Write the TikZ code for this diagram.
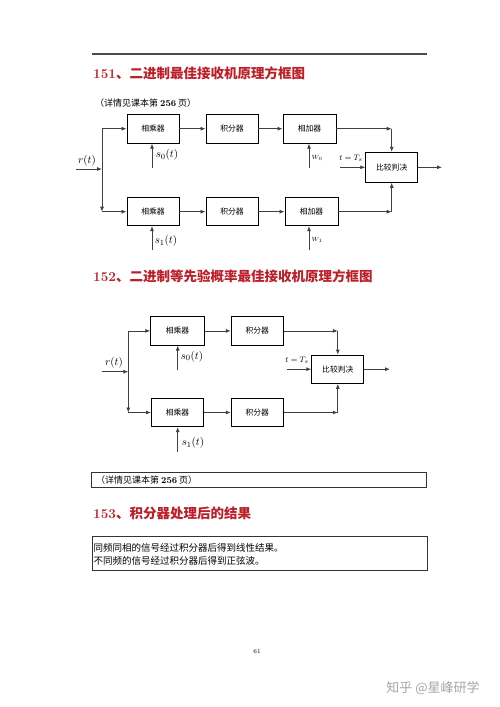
\documentclass[tikz,border=0pt]{standalone}
\usepackage{fontspec}
\newfontfamily\cjk{Noto Sans CJK SC}
\usetikzlibrary{arrows.meta}
\definecolor{titlered}{RGB}{190,30,40}
\tikzset{
  blk/.style={draw=black,line width=0.9pt,minimum width=52pt,minimum height=29pt,inner sep=0pt,font=\cjk\fontsize{7.8}{8}\selectfont},
  ln/.style={draw=black!75,line width=0.8pt},
  arr/.style={ln,-{Latex[length=5pt,width=4pt]}},
  ttl/.style={anchor=west,inner sep=0pt,text=titlered,font=\fontsize{13.5}{15}\selectfont},
  note/.style={anchor=west,inner sep=0pt,font=\cjk\fontsize{9}{10}\selectfont},
  mlab/.style={inner sep=0pt,font=\fontsize{11}{12}\selectfont},
  slab/.style={inner sep=0pt,font=\fontsize{8.5}{10}\selectfont},
  wlab/.style={inner sep=0pt,font=\fontsize{6}{7}\selectfont},
}
\begin{document}
\begin{tikzpicture}[x=1pt,y=-1pt]
\useasboundingbox[fill=white] (0,0) rectangle (500,707);
% top rule
\draw[black!70,line width=1.4pt] (92,54) -- (427,54);
% title 151
\node[ttl] (t1) at (93,73) {{\bfseries 151}{\cjk\bfseries 、二进制最佳接收机原理方框图}};
\node[note] (n1) at (95,103) {（详情见课本第 {\rmfamily\bfseries 256} 页）};

% ---------- diagram 1 ----------
\node[blk] (m0) at (153,128.7) {相乘器};
\node[blk] (i0) at (232,128.7) {积分器};
\node[blk,minimum width=53pt] (a0) at (309.5,128.7) {相加器};
\node[blk,minimum height=28pt] (m1) at (153,211.7) {相乘器};
\node[blk,minimum height=28pt] (i1) at (232,211.7) {积分器};
\node[blk,minimum width=53pt,minimum height=28pt] (a1) at (311.5,211.7) {相加器};
\node[blk,minimum height=30pt] (d1) at (391.7,167.3) {比较判决};

\coordinate (r1) at (76,169);
\coordinate (j1) at (102,169);
\coordinate (j1t) at (102,128.7);
\coordinate (j1b) at (102,211.7);
\draw[arr] (r1) -- (j1);
\draw[ln] (j1) -- (j1t);
\draw[arr] (j1t) -- (j1b);
\draw[arr] (j1t) -- (m0.west);
\draw[arr] (j1b) -- (m1.west);
\draw[arr] (m0) -- (i0);
\draw[arr] (i0) -- (a0);
\draw[arr] (m1) -- (i1);
\draw[arr] (i1) -- (a1);
\coordinate (s0a) at (152,168);
\draw[arr] (s0a) -- (s0a |- m0.south);
\coordinate (s1a) at (152,250);
\draw[arr] (s1a) -- (s1a |- m1.south);
\coordinate (w0a) at (309,168);
\draw[arr] (w0a) -- (w0a |- a0.south);
\coordinate (w1a) at (309,250);
\draw[arr] (w1a) -- (w1a |- a1.south);
\coordinate (c0) at (a0.east -| d1.north);
\coordinate (c1) at (a1.east -| d1.south);
\draw[arr] (a0.east) -- (c0);
\draw[arr] (c0) -- (d1.north);
\draw[arr] (a1.east) -- (c1);
\draw[arr] (c1) -- (d1.south);
\coordinate (ts1) at (340,167.3);
\draw[arr] (ts1) -- (d1.west);
\coordinate (o1) at (442,167.3);
\draw[arr] (d1.east) -- (o1);

\node[mlab] (lr1) at (87,161) {$r(t)$};
\node[mlab] (ls0) at (167,155) {$s_0(t)$};
\node[mlab] (ls1) at (166,241) {$s_1(t)$};
\node[wlab] (lw0) at (317,158) {$W_0$};
\node[wlab] (lw1) at (317,240) {$W_1$};
\node[slab] (lt1) at (351,158) {$t=T_s$};

% title 152
\node[ttl] (t2) at (93,276) {{\bfseries 152}{\cjk\bfseries 、二进制等先验概率最佳接收机原理方框图}};

% ---------- diagram 2 ----------
\node[blk,minimum width=53.6pt,minimum height=28.3pt] (m0b) at (177.5,330.9) {相乘器};
\node[blk,minimum height=28.3pt] (i0b) at (257.2,330.9) {积分器};
\node[blk,minimum height=28.3pt] (m1b) at (177.5,412.5) {相乘器};
\node[blk,minimum height=28.3pt] (i1b) at (257.2,412.5) {积分器};
\node[blk,minimum height=28.3pt] (d2) at (337.8,369.2) {比较判决};

\coordinate (r2) at (101.7,371.7);
\coordinate (j2) at (128.3,371.7);
\coordinate (j2t) at (128.3,330.9);
\coordinate (j2b) at (128.3,412.5);
\draw[arr] (r2) -- (j2);
\draw[ln] (j2) -- (j2t);
\draw[arr] (j2t) -- (j2b);
\draw[arr] (j2t) -- (m0b.west);
\draw[arr] (j2b) -- (m1b.west);
\draw[arr] (m0b) -- (i0b);
\draw[arr] (m1b) -- (i1b);
\coordinate (s0b) at (177.7,370);
\draw[arr] (s0b) -- (s0b |- m0b.south);
\coordinate (s1b) at (177.7,451.7);
\draw[arr] (s1b) -- (s1b |- m1b.south);
\coordinate (c2) at (i0b.east -| d2.north);
\coordinate (c3) at (i1b.east -| d2.south);
\draw[arr] (i0b.east) -- (c2);
\draw[arr] (c2) -- (d2.north);
\draw[arr] (i1b.east) -- (c3);
\draw[arr] (c3) -- (d2.south);
\coordinate (ts2) at (286.7,369.2);
\draw[arr] (ts2) -- (d2.west);
\coordinate (o2) at (390,369.2);
\draw[arr] (d2.east) -- (o2);

\node[mlab] (lr2) at (114,363) {$r(t)$};
\node[mlab] (ls0b) at (192,356.5) {$s_0(t)$};
\node[mlab] (ls1b) at (193,443) {$s_1(t)$};
\node[slab] (lt2) at (297,360) {$t=T_s$};

% note box
\draw[black!80,line width=0.8pt] (91.7,472.7) rectangle (426.7,487.3);
\node[note] (n2) at (96,480) {（详情见课本第 {\rmfamily\bfseries 256} 页）};

% title 153
\node[ttl] (t3) at (93,513.3) {{\bfseries 153}{\cjk\bfseries 、积分器处理后的结果}};
\draw[black!80,line width=0.8pt] (92,536) rectangle (427,570);
\node[note,font=\cjk\fontsize{9.5}{10}\selectfont] (n3) at (93.5,547.5) {同频同相的信号经过积分器后得到线性结果。};
\node[note,font=\cjk\fontsize{9.5}{10}\selectfont] (n4) at (93.5,560.5) {不同频的信号经过积分器后得到正弦波。};

% page number and watermark
\node[inner sep=0pt,font=\fontsize{6}{7}\selectfont] (pg) at (257,652) {61};
\node[inner sep=0pt,text=black!35,font=\cjk\fontsize{13}{14}\selectfont] (wm) at (433,688.5) {知乎 @星峰研学};
\end{tikzpicture}
\end{document}
